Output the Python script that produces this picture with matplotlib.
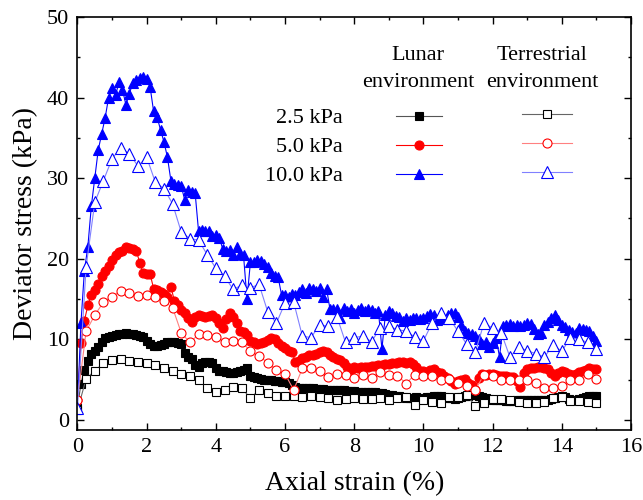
import matplotlib.pyplot as plt
import numpy as np

plt.rcParams['font.family'] = ['Liberation Serif', 'DejaVu Serif']

# strain grids (%) - lunar tests logged densely, terrestrial ones sparser
strain_lunar = np.round(np.arange(0, 15.01, 0.1), 2)
strain_terr = np.round(np.arange(0, 15.01, 0.25), 2)

# lunar environment, deviator stress (kPa)
lunar_2_5 = [
    1.5, 4.5, 6.2, 7.3, 8.2, 8.6, 9.0, 9.6, 10.1, 10.3,
    10.4, 10.5, 10.6, 10.7, 10.8, 10.7, 10.6, 10.5, 10.4, 10.3,
    9.8, 9.4, 9.2, 9.2, 9.3, 9.4, 9.6, 9.6, 9.6, 9.5,
    9.4, 8.3, 7.8, 7.5, 6.8, 6.6, 7.0, 7.2, 7.2, 7.0,
    6.4, 6.0, 6.0, 5.9, 5.8, 5.8, 5.9, 6.0, 6.2, 6.4,
    5.4, 5.3, 5.2, 5.1, 5.0, 4.9, 4.9, 4.8, 4.8, 4.7,
    4.7, 4.6, 4.3, 4.1, 4.0, 4.0, 3.9, 3.9, 3.9, 3.8,
    3.8, 3.8, 3.7, 3.7, 3.7, 3.7, 3.7, 3.7, 3.6, 3.6,
    3.6, 3.5, 3.5, 3.5, 3.4, 3.4, 3.4, 3.3, 3.3, 3.2,
    3.1, 3.1, 3.0, 2.9, 2.8, 2.7, 2.7, 2.7, 2.8, 2.7,
    2.7, 2.8, 2.8, 2.9, 2.9, 2.9, 2.8, 2.7, 2.7, 2.6,
    2.7, 2.8, 2.9, 3.0, 3.1, 3.1, 2.9, 2.8, 2.7, 2.6,
    2.5, 2.5, 2.4, 2.4, 2.3, 2.3, 2.3, 2.4, 2.4, 2.5,
    2.5, 2.5, 2.4, 2.5, 2.5, 2.5, 2.5, 2.6, 2.7, 2.8,
    2.9, 2.8, 2.6, 2.5, 2.5, 2.6, 2.7, 2.8, 2.9, 2.9,
    2.9,
]
lunar_5_0 = [
    2.5, 9.5, 12.3, 14.2, 15.5, 16.1, 16.9, 17.8, 18.5, 19.1,
    19.8, 20.4, 20.8, 21.0, 21.4, 21.3, 21.2, 21.0, 19.5, 18.2,
    18.1, 18.1, 16.3, 16.1, 15.9, 15.6, 15.3, 16.5, 14.8, 14.2,
    13.6, 13.2, 12.6, 12.2, 12.8, 13.0, 12.9, 12.8, 12.9, 13.0,
    12.6, 12.0, 11.4, 12.5, 13.3, 12.8, 12.0, 11.0, 10.9, 10.5,
    9.8, 9.6, 9.4, 9.5, 9.7, 9.9, 10.2, 10.0, 9.5, 9.2,
    8.9, 8.6, 8.4, 7.2, 7.3, 7.7, 7.8, 8.0, 8.0, 8.2,
    8.4, 8.6, 8.4, 8.1, 7.8, 7.6, 7.4, 7.0, 6.6, 6.2,
    6.6, 6.4, 6.6, 6.5, 6.6, 6.7, 6.7, 6.8, 6.8, 6.9,
    6.9, 7.0, 7.1, 7.2, 7.2, 7.0, 7.2, 6.9, 6.5, 6.1,
    6.0, 5.9, 6.2, 6.3, 5.9, 5.8, 5.5, 5.2, 4.8, 4.5,
    4.8, 5.0, 5.1, 4.6, 4.3, 3.7, 5.2, 5.7, 5.6, 5.7,
    5.7, 5.6, 5.5, 5.5, 5.4, 5.3, 5.3, 4.8, 4.1, 5.8,
    6.3, 6.4, 6.4, 6.5, 6.5, 6.4, 6.3, 5.8, 5.5, 5.8,
    6.1, 5.9, 5.7, 5.6, 5.7, 5.9, 6.1, 6.2, 6.4, 6.3,
    6.3,
]
lunar_10_0 = [
    1.5, 12.0, 18.5, 21.5, 26.5, 30.0, 33.5, 35.5, 37.5, 40.0,
    41.2, 40.3, 41.9, 41.0, 39.1, 40.5, 41.8, 42.2, 42.4, 42.6,
    42.3, 41.3, 38.3, 37.6, 36.0, 34.5, 32.6, 29.7, 29.3, 29.2,
    29.0, 27.3, 28.5, 28.3, 28.2, 23.4, 23.6, 23.5, 23.4, 22.8,
    23.0, 22.6, 21.2, 21.0, 21.1, 20.4, 21.4, 20.6, 20.4, 15.0,
    19.6, 19.6, 19.8, 19.7, 19.3, 19.0, 18.2, 17.9, 17.7, 15.5,
    15.5, 15.3, 15.6, 15.5, 15.9, 16.3, 15.8, 16.4, 16.2, 16.0,
    16.4, 15.2, 16.3, 13.7, 13.8, 13.7, 12.6, 13.9, 13.5, 13.8,
    13.2, 13.6, 13.9, 13.5, 13.8, 13.6, 13.3, 13.5, 8.8, 13.0,
    13.5, 13.3, 12.9, 12.8, 12.3, 12.6, 12.4, 12.7, 12.6, 12.5,
    12.6, 12.9, 13.1, 13.0, 12.4, 12.7, 12.5, 13.0, 13.3, 13.3,
    12.8, 11.8, 11.0, 10.8, 10.6, 10.4, 10.0, 9.4, 9.6, 9.0,
    9.5, 10.2, 7.8, 11.6, 11.8, 11.9, 11.7, 11.8, 11.6, 11.8,
    12.0, 11.9, 11.3, 10.6, 10.8, 11.8, 12.2, 12.6, 13.0, 12.4,
    11.8, 11.5, 11.2, 10.9, 10.8, 11.4, 11.3, 11.2, 11.0, 10.4,
    9.8,
]

# terrestrial environment, deviator stress (kPa)
terr_2_5 = [
    1.2, 5.1, 6.1, 7.0, 7.4, 7.6, 7.3, 7.2, 7.1, 6.8,
    6.4, 6.1, 5.7, 5.4, 5.0, 3.9, 3.5, 3.7, 4.1, 3.9,
    2.7, 3.7, 3.3, 3.0, 3.0, 2.9, 2.8, 2.9, 2.8, 2.7,
    2.5, 2.6, 2.7, 2.6, 2.6, 2.7, 2.4, 2.7, 2.8, 1.9,
    2.5, 2.2, 2.1, 2.8, 2.8, 3.1, 1.7, 2.1, 2.6, 2.6,
    2.4, 2.2, 2.1, 2.1, 2.2, 2.7, 2.8, 2.3, 2.3, 2.2,
    2.1,
]
terr_5_0 = [
    2.5, 11.0, 13.0, 14.6, 15.3, 16.0, 15.7, 15.4, 15.5, 15.3,
    14.8, 13.9, 10.8, 9.6, 10.6, 10.5, 10.3, 9.7, 9.8, 9.7,
    8.5, 7.9, 7.1, 6.2, 5.7, 3.7, 6.4, 6.4, 6.1, 5.3,
    5.7, 5.6, 5.2, 5.6, 5.2, 5.9, 5.6, 5.5, 4.5, 5.6,
    5.4, 5.4, 4.9, 5.1, 4.6, 4.2, 3.7, 5.6, 5.4, 5.0,
    5.0, 4.9, 5.0, 4.6, 4.0, 3.9, 4.2, 4.9, 4.9, 5.7,
    5.1,
]
terr_10_0 = [
    1.5, 19.0, 27.0, 29.7, 32.4, 33.8, 33.0, 31.5, 32.6, 29.5,
    28.7, 26.8, 23.3, 22.5, 22.3, 20.5, 18.8, 17.8, 16.2, 16.7,
    16.4, 16.8, 13.4, 12.0, 14.5, 14.6, 10.4, 10.2, 11.8, 11.6,
    12.8, 9.6, 10.2, 10.4, 9.7, 11.4, 11.6, 11.2, 11.0, 10.3,
    9.8, 12.0, 13.2, 12.6, 11.0, 9.4, 8.4, 12.0, 11.4, 10.8,
    7.8, 9.0, 8.6, 8.2, 7.8, 9.3, 8.5, 10.2, 10.0, 9.6,
    8.8,
]

pressure_labels = ['2.5 kPa', '5.0 kPa', '10.0 kPa']

fig = plt.figure(figsize=(6.43, 5.0), dpi=100)
ax = fig.add_axes([0.1205, 0.141, 0.8608, 0.825])

# lunar: filled symbols
lunar_handles = []
for vals, col, lcol, mk, ms in [(lunar_2_5, 'black', '#555555', 's', 6),
                                (lunar_5_0, 'red', 'red', 'o', 6.5),
                                (lunar_10_0, 'blue', 'blue', '^', 7.5)]:
    h, = ax.plot(strain_lunar, vals, '-', color=lcol, lw=0.8, marker=mk, ms=ms,
                 mfc=col, mec=col, mew=0.8)
    lunar_handles.append(h)

# terrestrial: open symbols, lighter lines
terr_handles = []
for vals, col, lcol, mk, ms in [(terr_2_5, 'black', '#666666', 's', 6),
                                (terr_5_0, 'red', '#ff8080', 'o', 6.5),
                                (terr_10_0, 'blue', '#8080ff', '^', 8)]:
    h, = ax.plot(strain_terr, vals, '-', color=lcol, lw=0.8, marker=mk, ms=ms,
                 mfc='white', mec=col, mew=0.8)
    terr_handles.append(h)

ax.set_xlim(0, 16)
ax.set_ylim(-1.2, 50)
ax.set_xticks(np.arange(0, 17, 2))
ax.set_xticks(np.arange(0, 17, 1), minor=True)
ax.set_yticks(np.arange(0, 51, 10))
ax.set_yticks(np.arange(0, 51, 5), minor=True)
ax.tick_params(which='both', direction='in', top=True, right=True, labelsize=16, pad=6)
ax.tick_params(which='major', length=5, width=1)
ax.tick_params(which='minor', length=2.5, width=1)
for sp in ax.spines.values():
    sp.set_linewidth(1.2)

ax.set_xlabel('Axial strain (%)', fontsize=20, labelpad=10)
ax.set_ylabel('Deviator stress (kPa)', fontsize=20, labelpad=6)

leg1 = ax.legend(lunar_handles, pressure_labels, markerfirst=False, frameon=False,
                 fontsize=16, handlelength=2.1, handletextpad=2.4, labelspacing=0.38,
                 borderpad=0, loc='center', bbox_to_anchor=(353.5 / 643, 1 - 147 / 500),
                 bbox_transform=fig.transFigure)
ax.add_artist(leg1)
ax.legend(terr_handles, ['', '', ''], frameon=False, fontsize=16, handlelength=2.25,
          handletextpad=0, labelspacing=0.38, borderpad=0, loc='center',
          bbox_to_anchor=(547 / 643, 1 - 145 / 500), bbox_transform=fig.transFigure)

fig.text(418 / 643, 1 - 69 / 500, 'Lunar\nenvironment', ha='center', va='center',
         fontsize=16, linespacing=1.55)
fig.text(542 / 643, 1 - 69 / 500, 'Terrestrial\nenvironment', ha='center', va='center',
         fontsize=16, linespacing=1.55)

fig.savefig('out.png', dpi=100)
